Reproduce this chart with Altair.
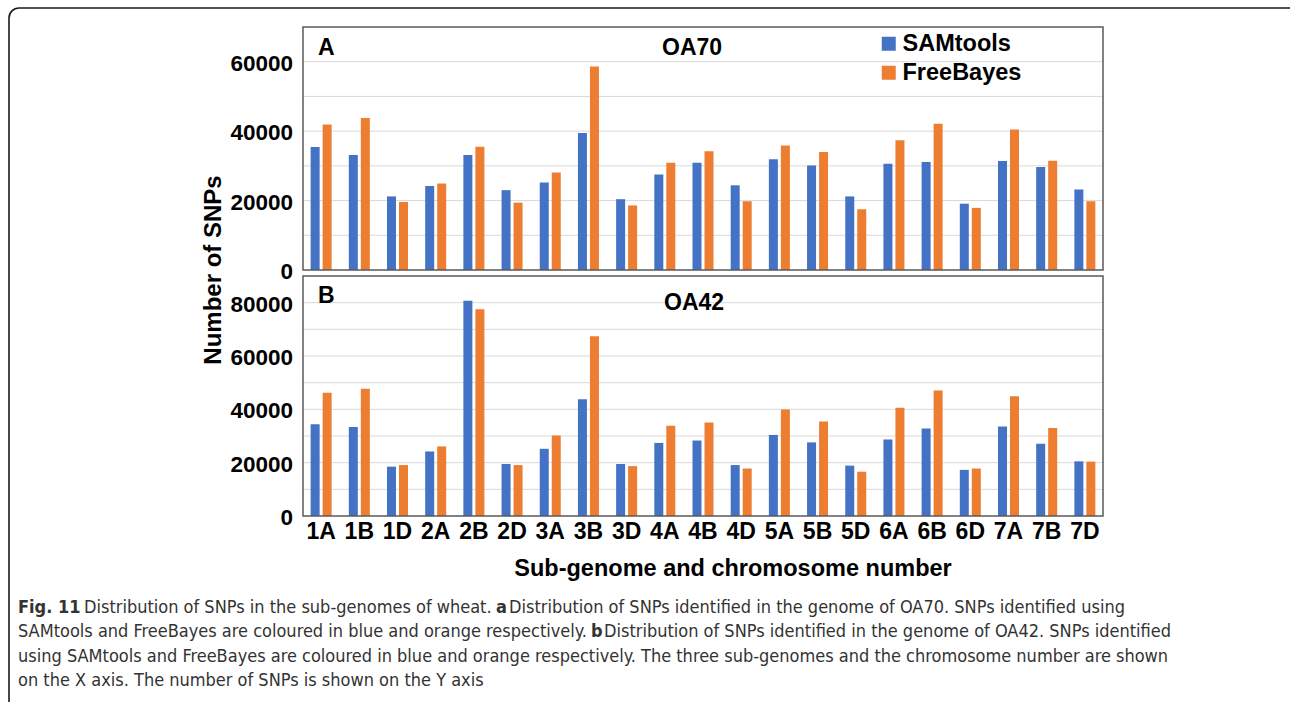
import altair as alt
import pandas as pd

# Chromosomes of the three wheat sub-genomes
CHROMS = ["1A", "1B", "1D", "2A", "2B", "2D", "3A", "3B", "3D", "4A", "4B", "4D",
          "5A", "5B", "5D", "6A", "6B", "6D", "7A", "7B", "7D"]
SERIES = ["SAMtools", "FreeBayes"]
COLORS = ["#4472C4", "#ED7D31"]

# SNP counts per chromosome, genotype OA70
OA70_SAMTOOLS = [35400, 33100, 21200, 24200, 33100, 23000, 25200, 39500, 20400, 27500, 30900,
                 24400, 31900, 30100, 21200, 30600, 31100, 19100, 31400, 29700, 23200]
OA70_FREEBAYES = [41900, 43800, 19600, 24900, 35500, 19400, 28100, 58600, 18600, 30900, 34200,
                  19800, 35900, 34000, 17500, 37400, 42100, 17900, 40500, 31500, 19800]

# SNP counts per chromosome, genotype OA42
OA42_SAMTOOLS = [34400, 33400, 18500, 24200, 80700, 19500, 25200, 43800, 19500, 27400, 28300,
                 19100, 30400, 27600, 18900, 28700, 32800, 17300, 33600, 27100, 20500]
OA42_FREEBAYES = [46200, 47700, 19100, 26100, 77500, 19100, 30200, 67400, 18700, 33800, 35100,
                  17800, 39900, 35400, 16600, 40600, 47100, 17800, 44900, 33000, 20400]

OA70_TICKS = [0, 20000, 40000, 60000]
OA42_TICKS = [0, 20000, 40000, 60000, 80000]
OA70_GRID = [10000, 20000, 30000, 40000, 50000, 60000]
OA42_GRID = [10000, 20000, 30000, 40000, 50000, 60000, 70000, 80000]

BOLD = "Liberation Sans, Arial, Helvetica, sans-serif"
CAPTION_FONT = "'Liberation Sans Narrow', 'DejaVu Sans Condensed', sans-serif"

PLOT_LEFT, PLOT_RIGHT = 303, 1103
ONE = pd.DataFrame({"k": [0]})


def long_table(sam, fb):
    rows = []
    for c, a, b in zip(CHROMS, sam, fb):
        rows.append({"chrom": c, "series": SERIES[0], "value": a})
        rows.append({"chrom": c, "series": SERIES[1], "value": b})
    return pd.DataFrame(rows)


x_scale = alt.Scale(domain=CHROMS, range=[PLOT_LEFT, PLOT_RIGHT], paddingInner=0.45, paddingOuter=0.2)
xoff_scale = alt.Scale(domain=SERIES, paddingInner=0.25, paddingOuter=0)
color_enc = alt.Color(
    "series:N",
    scale=alt.Scale(domain=SERIES, range=COLORS),
    legend=alt.Legend(
        orient="none", legendX=877, legendY=32, title=None, symbolType="square",
        symbolSize=196, symbolStrokeWidth=0, symbolOpacity=1, labelFont=BOLD,
        labelFontWeight="bold", labelFontSize=23.5, labelColor="black", labelOffset=2,
        rowPadding=4, padding=0, labelLimit=300,
    ),
)


def text_at(s, x, y, size, bold=True, align="left", color="black", font=BOLD, angle=None,
            baseline="alphabetic"):
    kw = dict(align=align, baseline=baseline, fontSize=size, font=font, color=color,
              fontWeight="bold" if bold else "normal")
    if angle is not None:
        kw["angle"] = angle
    return alt.Chart(ONE).mark_text(text=s, **kw).encode(x=alt.value(x), y=alt.value(y))


def panel(sam, fb, ymax, y_range, ticks, grid, letter, name, letter_y, name_y, name_x):
    y_scale = alt.Scale(domain=[0, ymax], range=y_range, nice=False, zero=True)
    data = long_table(sam, fb)
    gridlines = alt.Chart(pd.DataFrame({"v": grid})).mark_rule(
        color="#D9D9D9", strokeWidth=1
    ).encode(y=alt.Y("v:Q", scale=y_scale, axis=None), x=alt.value(PLOT_LEFT),
             x2=alt.value(PLOT_RIGHT))
    bars = alt.Chart(data).mark_bar().encode(
        x=alt.X("chrom:N", sort=CHROMS, scale=x_scale, axis=None),
        xOffset=alt.XOffset("series:N", sort=SERIES, scale=xoff_scale),
        y=alt.Y("value:Q", scale=y_scale, axis=None),
        color=color_enc,
    )
    border = alt.Chart(ONE).mark_rect(fillOpacity=0, stroke="#595959", strokeWidth=1.5).encode(
        x=alt.value(PLOT_LEFT), x2=alt.value(PLOT_RIGHT),
        y=alt.value(y_range[1]), y2=alt.value(y_range[0]),
    )
    tick_labels = alt.Chart(pd.DataFrame({"v": ticks})).mark_text(
        align="right", baseline="middle", font=BOLD, fontWeight="bold", fontSize=22.5,
        color="black", dy=2,
    ).encode(y=alt.Y("v:Q", scale=y_scale, axis=None), x=alt.value(293),
             text=alt.Text("v:Q", format="d"))
    letter_mark = text_at(letter, 318, letter_y, 23)
    name_mark = text_at(name, name_x, name_y, 23)
    return alt.layer(gridlines, bars, border, tick_labels, letter_mark, name_mark)


panel_a = panel(OA70_SAMTOOLS, OA70_FREEBAYES, 70000, [270, 27], OA70_TICKS, OA70_GRID,
                "A", "OA70", 55, 55, 662)
panel_b = panel(OA42_SAMTOOLS, OA42_FREEBAYES, 90000, [516, 276], OA42_TICKS, OA42_GRID,
                "B", "OA42", 303, 310, 664)

x_labels = alt.Chart(pd.DataFrame({"chrom": CHROMS})).mark_text(
    baseline="alphabetic", font=BOLD, fontWeight="bold", fontSize=23, color="black"
).encode(x=alt.X("chrom:N", sort=CHROMS, scale=x_scale, axis=None), y=alt.value(539),
         text="chrom:N")

x_title = text_at("Sub-genome and chromosome number", 733, 576, 23.5, align="center")
y_title = text_at("Number of SNPs", 221, 270, 24, align="center", angle=270)

# Figure frame with rounded corners, running off the right and bottom edges
frame = alt.Chart(ONE).mark_rect(
    fillOpacity=0, stroke="#1a1a1a", strokeWidth=1.6, cornerRadius=10
).encode(x=alt.value(9), x2=alt.value(1300), y=alt.value(8), y2=alt.value(730))

# Caption, set line by line with the bold lead-ins
CAP = 18
CAP_COLOR = "#333333"
caption = [
    text_at("Fig. 11", 18, 613, CAP, True, font=CAPTION_FONT, color=CAP_COLOR),
    text_at("Distribution of SNPs in the sub-genomes of wheat.", 84, 613, CAP, False,
            font=CAPTION_FONT, color=CAP_COLOR),
    text_at("a", 496, 613, CAP, True, font=CAPTION_FONT, color=CAP_COLOR),
    text_at("Distribution of SNPs identified in the genome of OA70. SNPs identified using",
            509, 613, CAP, False, font=CAPTION_FONT, color=CAP_COLOR),
    text_at("SAMtools and FreeBayes are coloured in blue and orange respectively.", 18, 637,
            CAP, False, font=CAPTION_FONT, color=CAP_COLOR),
    text_at("b", 591, 637, CAP, True, font=CAPTION_FONT, color=CAP_COLOR),
    text_at("Distribution of SNPs identified in the genome of OA42. SNPs identified",
            604, 637, CAP, False, font=CAPTION_FONT, color=CAP_COLOR),
    text_at("using SAMtools and FreeBayes are coloured in blue and orange respectively. "
            "The three sub-genomes and the chromosome number are shown", 18, 662, CAP, False,
            font=CAPTION_FONT, color=CAP_COLOR),
    text_at("on the X axis. The number of SNPs is shown on the Y axis", 18, 686, CAP, False,
            font=CAPTION_FONT, color=CAP_COLOR),
]

chart = alt.layer(
    frame, panel_a, panel_b, x_labels, x_title, y_title, *caption
).resolve_scale(y="independent").properties(
    width=1290, height=702, autosize=alt.AutoSizeParams(type="none"), padding=0,
    background="white",
).configure_view(stroke=None)

chart.save("out.html", embed_options={"renderer": "svg", "actions": False})
